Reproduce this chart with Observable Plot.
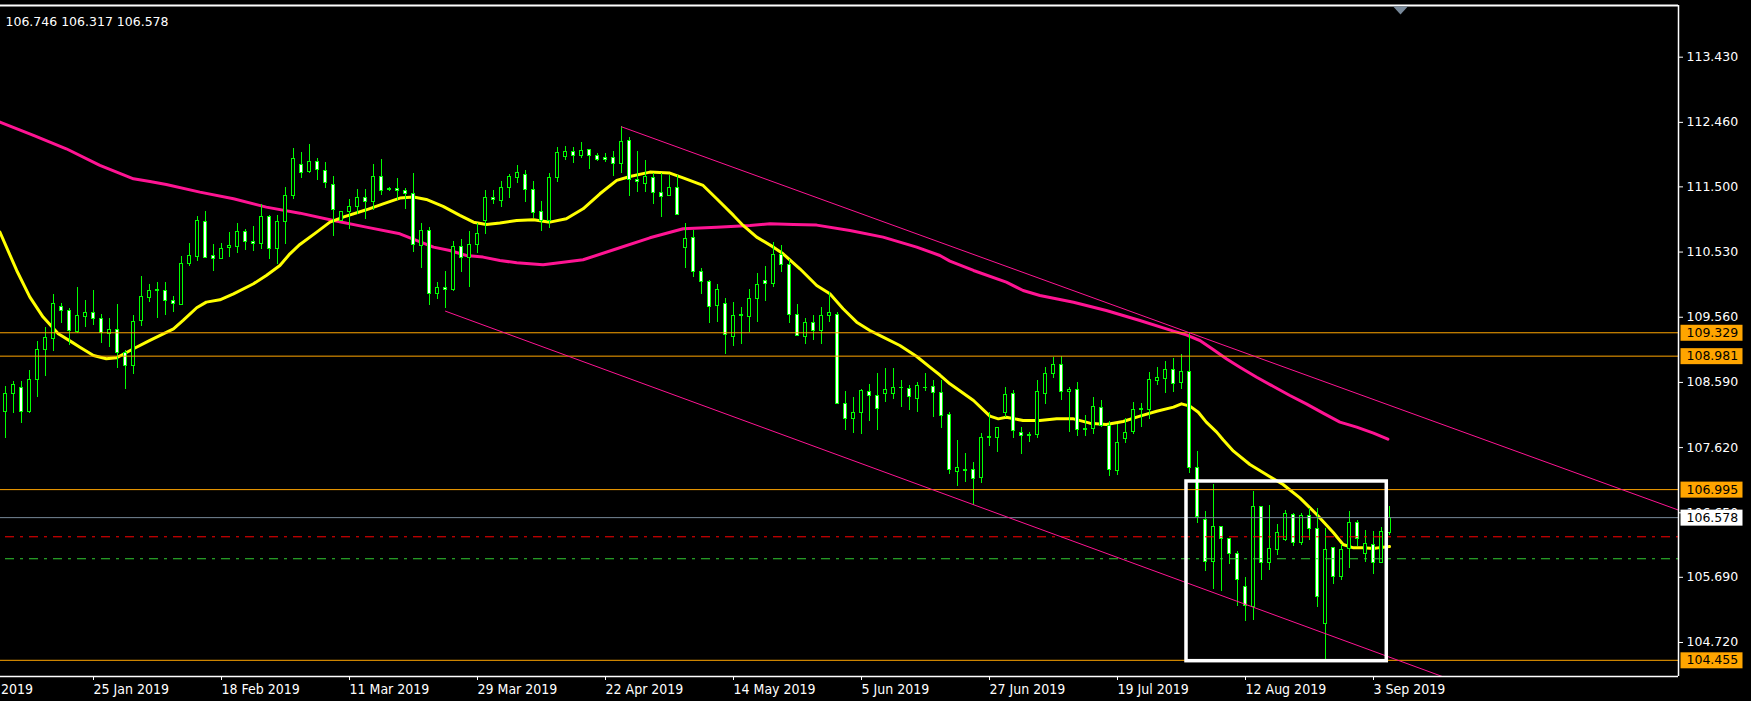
<!DOCTYPE html>
<html><head><meta charset="utf-8">
<script src="https://cdn.jsdelivr.net/npm/d3@7"></script>
<script src="https://cdn.jsdelivr.net/npm/@observablehq/plot@0.6"></script>
<style>
html,body{margin:0;padding:0;background:#000;}
#chart{width:1751px;height:701px;overflow:hidden;}
</style></head><body><div id="chart"></div>
<script>
// ---- Candle data (daily bars, bar index 0..173) ----
const opens = [
108.148,108.421,108.510,108.148,108.630,109.076,109.235,109.711,109.651,109.339,
109.562,109.627,109.537,109.314,109.374,109.031,108.833,109.503,109.845,109.950,
109.954,109.805,109.741,110.356,110.455,110.981,110.465,110.430,110.594,110.604,
110.832,110.683,110.643,111.055,110.579,110.981,111.367,111.829,111.720,111.873,
111.739,111.531,110.990,111.124,111.199,111.338,111.278,111.650,111.452,111.472,
111.442,111.397,110.618,110.847,109.909,109.998,109.969,110.609,110.445,110.638,
110.990,111.338,111.288,111.486,111.635,111.680,111.457,111.129,110.990,111.635,
111.948,112.022,111.963,112.052,111.963,111.933,111.933,111.843,112.186,111.605,
111.546,111.635,111.412,111.367,111.486,110.594,110.742,110.236,110.088,109.730,
109.760,109.269,109.572,109.567,109.835,110.102,110.058,110.489,110.341,109.597,
109.269,109.478,109.358,109.582,109.597,108.272,108.049,108.138,108.451,108.391,
108.421,108.421,108.500,108.490,108.346,108.500,108.525,108.436,108.098,107.260,
107.270,107.280,107.161,107.756,107.756,108.138,108.411,107.841,107.791,107.801,
108.411,108.709,108.843,108.446,108.471,107.876,107.890,108.213,107.935,107.265,
107.741,107.851,108.183,108.183,108.609,108.644,108.778,108.585,108.748,107.310,
106.550,105.925,106.446,106.253,106.044,105.553,105.241,106.729,105.896,106.089,
106.238,106.610,106.208,106.595,106.416,104.988,106.119,105.702,106.104,106.491,
106.044,106.178,105.910,106.342];
const highs = [
108.530,108.605,108.605,108.768,109.205,109.403,109.894,109.760,109.686,110.003,
109.810,109.954,109.597,109.537,109.750,109.066,109.587,110.167,110.048,110.083,
110.083,109.874,110.465,110.653,111.060,111.134,110.643,110.653,110.822,110.951,
110.871,110.911,111.234,111.075,111.075,111.487,112.072,112.012,112.131,111.918,
111.863,111.650,111.134,111.308,111.457,111.457,111.829,111.903,111.487,111.620,
111.472,111.695,110.951,110.896,110.083,110.237,110.683,110.713,110.832,110.951,
111.447,111.447,111.581,111.685,111.819,111.744,111.581,111.283,111.695,112.087,
112.101,112.082,112.156,112.062,111.992,111.992,112.022,112.394,112.230,112.022,
111.893,111.695,111.695,111.670,111.670,110.951,110.846,110.281,110.107,110.043,
109.840,109.780,109.701,109.969,110.207,110.316,110.668,110.623,110.415,109.750,
109.537,109.587,109.701,109.929,109.626,108.456,108.361,108.480,108.560,108.719,
108.798,108.798,108.619,108.540,108.595,108.719,108.619,108.619,108.138,107.732,
107.533,107.404,107.831,108.148,107.925,108.520,108.471,107.915,107.841,108.619,
108.808,108.967,108.982,108.520,108.595,108.099,108.366,108.322,108.014,107.965,
108.054,108.287,108.272,108.743,108.818,108.902,108.942,109.006,109.329,107.568,
106.674,107.071,106.450,106.267,106.079,105.692,106.972,106.744,106.763,106.476,
106.684,106.640,106.640,106.714,106.714,106.416,106.134,106.178,106.669,106.535,
106.386,106.371,106.431,106.746];
const lows = [
107.761,108.134,107.985,108.124,108.372,108.684,109.056,109.473,109.140,109.314,
109.413,109.438,109.165,109.116,108.803,108.486,108.709,109.423,109.775,109.547,
109.587,109.632,109.735,110.321,110.390,110.435,110.246,110.425,110.445,110.514,
110.554,110.544,110.574,110.415,110.346,110.643,111.308,111.630,111.695,111.601,
111.477,110.762,110.985,110.871,111.090,111.010,111.149,111.372,111.437,111.298,
111.159,110.529,110.291,109.741,109.820,109.696,109.949,110.227,110.003,110.514,
110.792,111.239,111.199,111.333,111.556,111.273,111.025,110.842,110.886,111.571,
111.893,111.843,111.918,111.759,111.883,111.858,111.655,111.695,111.357,111.422,
111.422,111.233,111.040,111.352,111.070,110.281,110.157,109.894,109.463,109.478,
109.011,109.130,109.150,109.329,109.487,109.800,109.998,110.231,109.463,109.280,
109.150,109.215,109.150,109.478,108.265,107.880,107.826,107.811,108.014,107.880,
108.297,108.342,108.213,108.173,108.148,108.461,108.064,107.900,107.220,107.037,
107.107,106.764,107.082,107.632,107.543,108.064,107.756,107.518,107.692,107.756,
108.262,108.654,108.327,107.841,107.781,107.781,107.816,107.915,107.186,107.206,
107.677,107.816,107.915,108.034,108.545,108.421,108.446,108.480,107.230,106.486,
105.771,105.504,105.474,105.881,105.256,105.027,105.047,105.643,105.791,106.015,
106.218,106.148,106.163,106.238,105.241,104.452,105.583,105.638,105.821,106.148,
105.910,105.732,105.905,106.317];
const closes = [
108.421,108.555,108.148,108.630,109.076,109.255,109.760,109.651,109.354,109.577,
109.627,109.537,109.329,109.374,109.031,108.833,109.493,109.865,109.954,109.958,
109.805,109.755,110.356,110.465,110.995,110.440,110.430,110.579,110.614,110.832,
110.683,110.653,111.055,110.579,110.981,111.367,111.918,111.710,111.873,111.754,
111.561,111.159,111.124,111.204,111.338,111.278,111.650,111.442,111.472,111.442,
111.397,110.638,110.847,109.909,109.998,109.969,110.609,110.445,110.638,110.802,
111.338,111.308,111.486,111.650,111.710,111.457,111.109,110.990,111.635,112.007,
112.022,111.963,112.037,111.963,111.903,111.903,111.843,112.171,111.605,111.576,
111.650,111.412,111.352,111.486,111.085,110.727,110.236,110.088,109.716,109.969,
109.299,109.582,109.587,109.835,110.043,110.058,110.489,110.341,109.597,109.284,
109.478,109.358,109.582,109.616,108.272,108.049,108.138,108.466,108.391,108.198,
108.480,108.510,108.510,108.376,108.540,108.510,108.436,108.093,107.280,107.310,
107.280,107.146,107.756,107.771,107.910,108.396,107.861,107.791,107.806,108.446,
108.709,108.843,108.446,108.475,107.876,107.900,108.218,107.935,107.280,107.692,
107.841,108.183,108.198,108.629,108.659,108.778,108.570,108.748,107.310,106.591,
105.925,106.446,106.253,106.044,105.643,105.256,106.729,105.896,106.104,106.342,
106.625,106.208,106.595,106.416,105.404,106.089,105.702,106.089,106.491,106.253,
106.193,105.910,106.357,106.578];

// ---- Axis ticks ----
const xTickIndex = [-5, 11, 27, 43, 59, 75, 91, 107, 123, 139, 155, 171];
const xTickLabels = ["3 Jan 2019","25 Jan 2019","18 Feb 2019","11 Mar 2019","29 Mar 2019","22 Apr 2019",
  "14 May 2019","5 Jun 2019","27 Jun 2019","19 Jul 2019","12 Aug 2019","3 Sep 2019"];
const yTicks = [113.430, 112.460, 111.500, 110.530, 109.560, 108.590, 107.620, 106.650, 105.690, 104.720];

// ---- Moving averages ----
const fastIdx = [-0.7,1.4,3.05,4.7,6.6,8.3,9.3,11,12.6,13.9,16,18.05,21,22.2,23.9,25.1,26.8,28.5,31,32.6,34.3,35.55,36.8,38.9,40.55,42.2,45.1,47.2,49.3,51,52.6,54.7,56.8,58.5,60.1,61.8,63.9,66,68.05,70.1,72.2,74.3,76.4,78.05,80.55,83.05,84.7,87.2,88.9,91,92.2,93.9,96,97.2,99.3,101.4,103.05,104.7,106.4,108.05,109.7,111.8,113.9,115.55,116.8,118.05,121,123.05,124.1,125.1,127.2,129.3,131.4,133.5,135.55,137.6,139.7,141.8,143.9,146,147,148.05,149.1,150.1,151.4,152.2,153.5,155.55,157.6,159.7,161.8,163.9,166,167.2,168.5,169.7,171,172.2,173];
const fastVal = [110.827,110.256,109.859,109.562,109.314,109.190,109.115,108.991,108.942,108.957,109.091,109.215,109.388,109.512,109.701,109.785,109.820,109.909,110.058,110.182,110.331,110.504,110.643,110.827,110.975,111.050,111.159,111.248,111.333,111.348,111.313,111.209,111.075,110.975,110.941,110.961,111.000,111.010,110.975,111.025,111.174,111.397,111.596,111.655,111.720,111.705,111.635,111.521,111.323,111.075,110.926,110.752,110.603,110.504,110.281,110.033,109.909,109.686,109.487,109.363,109.264,109.140,108.976,108.818,108.700,108.570,108.321,108.088,108.048,108.073,108.023,108.023,108.048,108.048,107.984,107.964,108.009,108.088,108.162,108.222,108.271,108.237,108.147,107.999,107.850,107.736,107.567,107.369,107.220,107.071,106.873,106.625,106.352,106.178,106.129,106.129,106.119,106.139,106.148];
const slowIdx = [-0.7,3.5,7.6,11.8,13.9,16,18.05,20.1,24.3,28.5,32.6,36.8,41,45.1,49.3,53.5,55.55,57.6,59.7,61.8,63.9,67.2,72.2,76.4,80.55,84.7,88.9,93.05,95.55,98.5,101.4,105.55,109.7,113.9,116.8,118.05,121,125.1,127.2,129.3,133.5,137.6,141.8,146,147.6,149.3,151,152.6,154.3,156.4,158.5,160.55,162.6,164.7,166.8,168.9,171,172.8];
const slowVal = [112.464,112.265,112.067,111.819,111.720,111.620,111.581,111.536,111.422,111.323,111.199,111.109,111.000,110.901,110.802,110.603,110.554,110.479,110.455,110.405,110.370,110.341,110.415,110.579,110.742,110.876,110.901,110.926,110.951,110.941,110.931,110.851,110.752,110.604,110.479,110.395,110.256,110.082,109.958,109.884,109.784,109.660,109.512,109.353,109.298,109.214,109.075,108.941,108.817,108.668,108.529,108.395,108.271,108.133,107.999,107.924,107.835,107.746];

// ---- Drawn objects ----
const levelPrices = [109.329, 108.981, 106.995, 104.455];
const bidPrice = 106.578;
const headerValues = [106.746, 106.317, 106.578];
const redLevel = 106.293;
const greenLevel = 105.966;
const upperTrendIdx = [77, 209.125], upperTrendVal = [112.394, 106.690];
const lowerTrendIdx = [55, 209.125], lowerTrendVal = [109.650, 102.926];
const boxIdx = [147.625, 172.66], boxVal = [107.116, 104.442];
const shiftMarkIdx = 174.375;

// ---- Scale domains ----
const xMin = -0.625, xMax = 209.125;
const yMin = 104.214, yMax = 114.199;

const n = Math.min(opens.length, highs.length, lows.length, closes.length);
const candles = d3.range(n).map(i => ({i, o: opens[i], h: highs[i], l: lows[i], c: closes[i]}));
const fast = fastIdx.map((i, k) => ({i, v: fastVal[k]}));
const slow = slowIdx.map((i, k) => ({i, v: slowVal[k]}));
const upper = upperTrendIdx.map((i, k) => ({i, v: upperTrendVal[k]}));
const lower = lowerTrendIdx.map((i, k) => ({i, v: lowerTrendVal[k]}));

const GREEN = "#00ff00", PINK = "#ff1493", ORANGE = "#ffa500";
const LEVEL_TXT = "#010101", BID_TXT = "#020202";
const SANS = "'DejaVu Sans', Verdana, sans-serif";
const COND = "'DejaVu Sans Condensed', 'DejaVu Sans', sans-serif";
const triangle = {draw(ctx) { ctx.moveTo(-7.3, -4); ctx.lineTo(7.3, -4); ctx.lineTo(0, 4); ctx.closePath(); }};

const chart = Plot.plot({
  width: 1751, height: 701,
  marginLeft: 0, marginRight: 73, marginTop: 5, marginBottom: 25,
  style: {background: "#000", color: "#fff", fontFamily: SANS, fontSize: "12.5px"},
  x: {domain: [xMin, xMax], label: null},
  y: {domain: [yMin, yMax], label: null},
  marks: [
    Plot.line(slow, {x: "i", y: "v", stroke: PINK, strokeWidth: 3, clip: true}),
    Plot.line(fast, {x: "i", y: "v", stroke: "#ffff00", strokeWidth: 3, clip: true}),
    Plot.ruleX(candles, {x: "i", y1: "l", y2: "h", stroke: GREEN, strokeWidth: 1, shapeRendering: "crispEdges"}),
    Plot.rect(candles, {x1: d => d.i - 0.1875, x2: d => d.i + 0.1875, y1: "o", y2: "c",
      fill: d => d.c < d.o ? "#ffffff" : "#000000", stroke: GREEN, strokeWidth: 1, shapeRendering: "crispEdges"}),
    Plot.ruleY([redLevel], {stroke: "#ff0000", strokeDasharray: "9,6,3,6", strokeDashoffset: 19}),
    Plot.ruleY([greenLevel], {stroke: "#32cd32", strokeDasharray: "9,6,3,6", strokeDashoffset: 19}),
    Plot.ruleY(levelPrices, {stroke: ORANGE, strokeWidth: 1}),
    Plot.ruleY([bidPrice], {stroke: "#778899", strokeWidth: 1}),
    Plot.line(upper, {x: "i", y: "v", stroke: PINK, strokeWidth: 1, clip: true}),
    Plot.line(lower, {x: "i", y: "v", stroke: PINK, strokeWidth: 1, clip: true}),
    Plot.rect([0], {x1: () => boxIdx[0], x2: () => boxIdx[1], y1: () => boxVal[0], y2: () => boxVal[1],
      fill: "none", stroke: "#ffffff", strokeWidth: 3.5}),
    Plot.ruleY([yMax], {stroke: "#ffffff", strokeWidth: 2}),
    Plot.ruleY([yMin], {stroke: "#ffffff", strokeWidth: 1.5}),
    Plot.ruleX([xMax], {stroke: "#ffffff", strokeWidth: 1.5}),
    Plot.dot([shiftMarkIdx], {x: d => d, frameAnchor: "top", dy: 5, symbol: triangle, fill: "#778899", stroke: "none"}),
    Plot.axisX(xTickIndex, {anchor: "bottom", label: null, tickSize: 4, tickPadding: 4, textAnchor: "start",
      tickFormat: d => xTickLabels[xTickIndex.indexOf(d)], fontFamily: COND, fontSize: 14,
      stroke: "#ffffff", fill: "#ffffff"}),
    Plot.axisY(yTicks, {anchor: "right", label: null, tickSize: 4, tickPadding: 4, tickFormat: d => d.toFixed(3),
      fontFamily: SANS, fontSize: 12.5, stroke: "#ffffff", fill: "#ffffff"}),
    Plot.text(levelPrices, {y: d => d, frameAnchor: "right", dx: 8, textAnchor: "start",
      text: d => d.toFixed(3), fill: LEVEL_TXT, fontFamily: SANS, fontSize: 12.5}),
    Plot.text([bidPrice], {y: d => d, frameAnchor: "right", dx: 8, textAnchor: "start",
      text: d => d.toFixed(3), fill: BID_TXT, fontFamily: SANS, fontSize: 12.5}),
    Plot.text([headerValues.map(v => v.toFixed(3)).join(" ")], {frameAnchor: "top-left", dx: 5, dy: 12,
      textAnchor: "start", fill: "#ffffff", fontFamily: SANS, fontSize: 12.5})
  ]
});
document.getElementById("chart").appendChild(chart);

// label boxes behind the price tags on the right axis
const svgEl = chart.tagName.toLowerCase() === "svg" ? chart : chart.querySelector("svg");
function addBoxes(fillKey, color) {
  svgEl.querySelectorAll(`g[fill="${fillKey}"] text`).forEach(function (el) {
    const bb = el.getBBox();
    const r = document.createElementNS("http://www.w3.org/2000/svg", "rect");
    const cy = bb.y + bb.height / 2 + 0.5;
    r.setAttribute("x", bb.x - 6);
    r.setAttribute("y", cy - 8);
    r.setAttribute("width", 62);
    r.setAttribute("height", 16);
    r.setAttribute("fill", color);
    const t = el.getAttribute("transform");
    if (t) r.setAttribute("transform", t);
    el.parentNode.insertBefore(r, el);
  });
}
addBoxes(LEVEL_TXT, ORANGE);
addBoxes(BID_TXT, "#ffffff");
</script>
</body></html>
